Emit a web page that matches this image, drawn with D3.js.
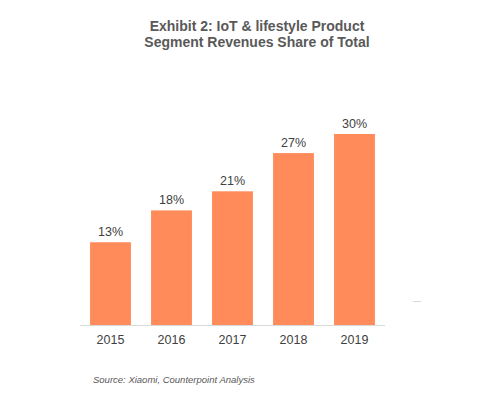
<!DOCTYPE html>
<html>
<head>
<meta charset="utf-8">
<script src="https://cdn.jsdelivr.net/npm/d3@7"></script>
<style>
  body { margin:0; background:#fff; }
  svg { display:block; font-family:"Liberation Sans", Arial, sans-serif; }
</style>
</head>
<body>
<div id="chart"></div>
<script>
// IoT & lifestyle segment share of revenue
const years = ["2015","2016","2017","2018","2019"];
const shares = [13, 18, 21, 27, 30];
const titleLines = ["Exhibit 2: IoT & lifestyle Product", "Segment Revenues Share of Total"];
const sourceText = "Source: Xiaomi, Counterpoint Analysis";

const width = 480, height = 399;
const svg = d3.select("#chart").append("svg")
  .attr("width", width).attr("height", height);

const barColor = "#FF8B5A";
const textColor = "#404040";

const x = d3.scaleBand().domain(years).range([80, 385])
  .paddingInner(0.33).paddingOuter(0.165);
const y = d3.scaleLinear().domain([0, 30]).range([325, 134]);

// title
svg.append("text")
  .attr("x", 257).attr("y", 31)
  .attr("text-anchor","middle")
  .attr("font-size", 14).attr("font-weight","bold")
  .attr("fill", "#595959")
  .selectAll("tspan").data(titleLines).join("tspan")
    .attr("x", 257).attr("dy", (d,i)=> i ? 16 : 0)
    .text(d=>d);

// bars
svg.selectAll("rect.bar").data(years).join("rect")
  .attr("class","bar")
  .attr("x", d=>x(d))
  .attr("y", (d,i)=>y(shares[i]))
  .attr("width", x.bandwidth())
  .attr("height", (d,i)=>y(0) - y(shares[i]))
  .attr("fill", barColor);

// value labels
svg.selectAll("text.val").data(years).join("text")
  .attr("class","val")
  .attr("x", d=>x(d) + x.bandwidth()/2)
  .attr("y", (d,i)=>y(shares[i]) - 6)
  .attr("text-anchor","middle")
  .attr("font-size", 12.5)
  .attr("fill", textColor)
  .text((d,i)=>shares[i] + "%");

// x axis
const xAxis = svg.append("g")
  .attr("transform", `translate(0,${y(0)})`)
  .call(d3.axisBottom(x).tickSize(0).tickPadding(10));
xAxis.select(".domain").attr("stroke", "#d9d9d9").attr("d", "M80,0.5H385");
xAxis.selectAll("text")
  .attr("font-size", 12.5)
  .attr("font-family", "Liberation Sans, Arial, sans-serif")
  .attr("fill", textColor);

// stray tick at right, as in the original image
svg.append("line")
  .attr("x1", 413).attr("x2", 421).attr("y1", 301.5).attr("y2", 301.5)
  .attr("stroke", "#d9d9d9");

// source
svg.append("text")
  .attr("x", 93).attr("y", 383)
  .attr("font-size", 9.5).attr("font-style","italic")
  .attr("fill", "#595959")
  .text(sourceText);
</script>
</body>
</html>
